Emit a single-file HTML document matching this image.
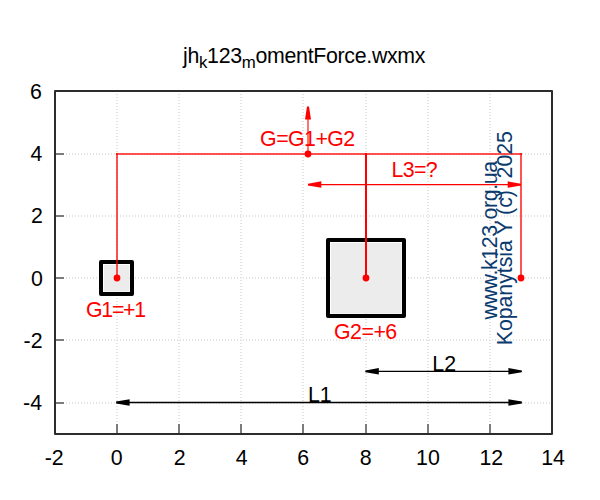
<!DOCTYPE html>
<html><head><meta charset="utf-8"><style>
html,body{margin:0;padding:0;background:#fff;width:600px;height:500px;overflow:hidden}
svg{display:block}
text{font-family:"Liberation Sans",sans-serif;font-size:21.33px;white-space:pre}
</style></head><body>
<svg width="600" height="500" viewBox="0 0 600 500">
<rect width="600" height="500" fill="#fff"/>
<line x1="117" y1="92" x2="117" y2="433" stroke="#e3e3e3" stroke-width="2" stroke-dasharray="1 2" stroke-dashoffset="1"/>
<line x1="179" y1="92" x2="179" y2="433" stroke="#e3e3e3" stroke-width="2" stroke-dasharray="1 2" stroke-dashoffset="1"/>
<line x1="241" y1="92" x2="241" y2="433" stroke="#e3e3e3" stroke-width="2" stroke-dasharray="1 2" stroke-dashoffset="1"/>
<line x1="303" y1="92" x2="303" y2="433" stroke="#e3e3e3" stroke-width="2" stroke-dasharray="1 2" stroke-dashoffset="1"/>
<line x1="366" y1="92" x2="366" y2="433" stroke="#e3e3e3" stroke-width="2" stroke-dasharray="1 2" stroke-dashoffset="1"/>
<line x1="428" y1="92" x2="428" y2="433" stroke="#e3e3e3" stroke-width="2" stroke-dasharray="1 2" stroke-dashoffset="1"/>
<line x1="490" y1="92" x2="490" y2="433" stroke="#e3e3e3" stroke-width="2" stroke-dasharray="1 2" stroke-dashoffset="1"/>
<line x1="56" y1="154" x2="551" y2="154" stroke="#e3e3e3" stroke-width="2" stroke-dasharray="1 2" stroke-dashoffset="2"/>
<line x1="56" y1="216" x2="551" y2="216" stroke="#e3e3e3" stroke-width="2" stroke-dasharray="1 2" stroke-dashoffset="2"/>
<line x1="56" y1="278" x2="551" y2="278" stroke="#e3e3e3" stroke-width="2" stroke-dasharray="1 2" stroke-dashoffset="2"/>
<line x1="56" y1="340" x2="551" y2="340" stroke="#e3e3e3" stroke-width="2" stroke-dasharray="1 2" stroke-dashoffset="2"/>
<line x1="56" y1="403" x2="551" y2="403" stroke="#e3e3e3" stroke-width="2" stroke-dasharray="1 2" stroke-dashoffset="2"/>
<line x1="55" y1="434" x2="55" y2="424" stroke="#7c7c7c" stroke-width="2"/>
<line x1="117" y1="434" x2="117" y2="424" stroke="#7c7c7c" stroke-width="2"/>
<line x1="179" y1="434" x2="179" y2="424" stroke="#7c7c7c" stroke-width="2"/>
<line x1="241" y1="434" x2="241" y2="424" stroke="#7c7c7c" stroke-width="2"/>
<line x1="303" y1="434" x2="303" y2="424" stroke="#7c7c7c" stroke-width="2"/>
<line x1="366" y1="434" x2="366" y2="424" stroke="#7c7c7c" stroke-width="2"/>
<line x1="428" y1="434" x2="428" y2="424" stroke="#7c7c7c" stroke-width="2"/>
<line x1="490" y1="434" x2="490" y2="424" stroke="#7c7c7c" stroke-width="2"/>
<line x1="552" y1="434" x2="552" y2="424" stroke="#7c7c7c" stroke-width="2"/>
<line x1="55" y1="91" x2="64" y2="91" stroke="#7c7c7c" stroke-width="2"/>
<line x1="55" y1="154" x2="64" y2="154" stroke="#7c7c7c" stroke-width="2"/>
<line x1="55" y1="216" x2="64" y2="216" stroke="#7c7c7c" stroke-width="2"/>
<line x1="55" y1="278" x2="64" y2="278" stroke="#7c7c7c" stroke-width="2"/>
<line x1="55" y1="340" x2="64" y2="340" stroke="#7c7c7c" stroke-width="2"/>
<line x1="55" y1="403" x2="64" y2="403" stroke="#7c7c7c" stroke-width="2"/>
<rect x="104" y="265" width="25.5" height="26.5" fill="#ececec"/>
<rect x="101" y="262" width="31" height="32" fill="none" stroke="#000" stroke-width="4" stroke-linejoin="round"/>
<rect x="331" y="243" width="70.5" height="70.5" fill="#ececec"/>
<rect x="328" y="240" width="76" height="76" fill="none" stroke="#000" stroke-width="4" stroke-linejoin="round"/>
<line x1="117" y1="278" x2="117" y2="154" stroke="rgba(255,0,0,0.68)" stroke-width="2" stroke-linecap="square"/>
<line x1="117" y1="154" x2="521" y2="154" stroke="rgba(255,0,0,0.68)" stroke-width="2" stroke-linecap="square"/>
<line x1="521" y1="154" x2="521" y2="278" stroke="rgba(255,0,0,0.68)" stroke-width="2" stroke-linecap="square"/>
<line x1="366" y1="153" x2="366" y2="278" stroke="#ff0000" stroke-width="2"/>
<line x1="308" y1="154" x2="308" y2="112" stroke="rgba(255,0,0,0.55)" stroke-width="2"/>
<polygon points="307,106.6 309,106.6 311,119.4 305,119.4" fill="#ff0000"/>
<line x1="308" y1="184.6" x2="521" y2="184.6" stroke="#ff0000" stroke-width="1.3"/>
<polygon points="308,183.7 321.3,181.35 321.3,187.85 308,185.5" fill="#ff0000"/>
<polygon points="521,183.7 507.7,181.35 507.7,187.85 521,185.5" fill="#ff0000"/>
<circle cx="117" cy="278" r="3.4" fill="#ff0000"/>
<circle cx="366" cy="278" r="3.4" fill="#ff0000"/>
<circle cx="521" cy="278" r="3.4" fill="#ff0000"/>
<circle cx="308" cy="154" r="3.4" fill="#ff0000"/>
<line x1="365.5" y1="371.3" x2="521.7" y2="371.3" stroke="#000" stroke-width="1.3"/>
<polygon points="365.5,370.40000000000003 378.8,368.05 378.8,374.55 365.5,372.2" fill="#000"/>
<polygon points="521.7,370.40000000000003 508.40000000000003,368.05 508.40000000000003,374.55 521.7,372.2" fill="#000"/>
<line x1="116.3" y1="402.5" x2="521.7" y2="402.5" stroke="#000" stroke-width="1.3"/>
<polygon points="116.3,401.6 129.6,399.25 129.6,405.75 116.3,403.4" fill="#000"/>
<polygon points="521.7,401.6 508.40000000000003,399.25 508.40000000000003,405.75 521.7,403.4" fill="#000"/>
<rect x="55" y="91" width="497" height="343" fill="none" stroke="#2c2c2c" stroke-width="2" stroke-linejoin="round"/>
<text x="260.10" y="145.5" fill="#ff0000" textLength="95.11" lengthAdjust="spacing">G=G1+G2</text>
<text x="391.50" y="177" fill="#ff0000" textLength="46.05" lengthAdjust="spacing">L3=?</text>
<text x="85.90" y="317" fill="#ff0000" textLength="60.33" lengthAdjust="spacing">G1=+1</text>
<text x="334.00" y="339" fill="#ff0000" textLength="63.23" lengthAdjust="spacing">G2=+6</text>
<text x="432.35" y="371" fill="#000">L2</text>
<text x="308.00" y="402" fill="#000">L1</text>
<text x="44.75" y="465" fill="#000">-2</text>
<text x="110.70" y="465" fill="#000">0</text>
<text x="173.65" y="465" fill="#000">2</text>
<text x="235.65" y="465" fill="#000">4</text>
<text x="297.35" y="465" fill="#000">6</text>
<text x="359.70" y="465" fill="#000">8</text>
<text x="416.10" y="465" fill="#000">10</text>
<text x="479.40" y="465" fill="#000">12</text>
<text x="541.15" y="465" fill="#000">14</text>
<text x="30.12" y="99" fill="#000">6</text>
<text x="30.60" y="161" fill="#000">4</text>
<text x="31.00" y="223" fill="#000">2</text>
<text x="30.90" y="286" fill="#000">0</text>
<text x="23.60" y="348" fill="#000">-2</text>
<text x="23.10" y="410" fill="#000">-4</text>
<text transform="translate(497,319.50) rotate(-90)" fill="#0a3a6e" textLength="158.61" lengthAdjust="spacing">www.k123.org.ua</text>
<text transform="translate(512,345.30) rotate(-90)" fill="#0a3a6e" textLength="214.30" lengthAdjust="spacing">Kopanytsia Y (c)  2025</text>
<text x="183" y="63" fill="#000" style="letter-spacing:-0.3px">jh<tspan font-size="16.8" dy="5">k</tspan><tspan dy="-5">123</tspan><tspan font-size="16.8" dy="5">m</tspan><tspan dy="-5">omentForce.wxmx</tspan></text>
</svg>
</body></html>
